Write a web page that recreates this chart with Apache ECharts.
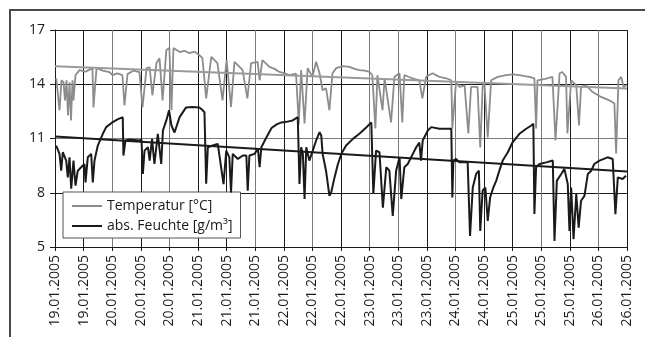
<!DOCTYPE html>
<html>
<head>
<meta charset="utf-8">
<script src="https://cdn.jsdelivr.net/npm/echarts@6/dist/echarts.min.js"></script>
<style>
  html, body { margin: 0; padding: 0; background: #fff; }
  #chart { width: 645px; height: 337px; }
</style>
</head>
<body>
<div id="chart"></div>
<script>
// x = Stunden ab linkem Rand (19.01.2005 ca. 10 Uhr), eine Teilung = 8,4 h
var tickStep = 8.4
var tickLabels = [
  '19.01.2005', '19.01.2005', '20.01.2005', '20.01.2005', '20.01.2005',
  '21.01.2005', '21.01.2005', '21.01.2005', '22.01.2005', '22.01.2005',
  '22.01.2005', '23.01.2005', '23.01.2005', '23.01.2005', '24.01.2005',
  '24.01.2005', '25.01.2005', '25.01.2005', '25.01.2005', '26.01.2005',
  '26.01.2005'
]

var temperatur = [
  [0.35, 14.33], [0.73, 13.67], [1.32, 12.56], [1.91, 14.22], [2.5, 14.11],
  [2.94, 13.11], [3.38, 14.22], [3.82, 12.28], [4.26, 14.11], [4.7, 12.0],
  [5.14, 14.22], [5.43, 13.11], [6.02, 14.5], [7.2, 14.78], [9.0, 14.7],
  [11.0, 14.89], [11.3, 12.72], [12.2, 14.89], [14.0, 14.75], [16.0, 14.67],
  [16.9, 14.5], [18.3, 14.6], [19.8, 14.5], [20.4, 12.83], [21.3, 14.56],
  [23.0, 14.75], [24.8, 14.67], [25.7, 12.72], [26.9, 14.89], [27.8, 14.94],
  [28.6, 13.39], [29.8, 15.17], [30.7, 15.44], [31.6, 13.11], [32.7, 15.89],
  [33.6, 16.0], [34.2, 12.56], [34.8, 16.0], [36.6, 15.78], [38.0, 15.85],
  [39.5, 15.72], [41.0, 15.8], [42.4, 15.61], [43.3, 15.44], [44.4, 13.22],
  [45.9, 15.52], [47.7, 15.17], [49.2, 13.11], [50.4, 15.33], [51.7, 12.74],
  [52.7, 15.24], [54.0, 15.0], [55.1, 14.78], [56.5, 13.22], [57.6, 15.17],
  [59.5, 15.24], [60.1, 14.22], [60.9, 15.33], [63.0, 14.96], [64.5, 14.85],
  [65.9, 14.68], [67.5, 14.6], [68.9, 14.5], [70.8, 14.59], [71.6, 11.78],
  [72.3, 14.78], [73.3, 11.83], [74.2, 14.89], [75.6, 14.41], [76.7, 15.24],
  [77.7, 14.61], [78.6, 13.67], [79.6, 13.78], [80.6, 12.56], [81.5, 14.61],
  [82.6, 14.89], [84.5, 15.0], [86.5, 14.96], [88.0, 14.85], [89.4, 14.78],
  [91.0, 14.75], [92.4, 14.68], [93.2, 14.5], [94.1, 11.56], [94.7, 14.5],
  [96.2, 12.56], [96.8, 14.33], [98.7, 11.89], [99.7, 14.41], [101.2, 14.61],
  [102.0, 11.89], [102.6, 14.5], [104.0, 14.4], [105.0, 14.33], [107.0, 14.22],
  [107.9, 13.22], [109.0, 14.41], [110.9, 14.61], [112.9, 14.41], [114.9, 14.33],
  [116.4, 14.22], [116.7, 11.56], [117.8, 14.13], [118.8, 13.85], [120.3, 13.94],
  [121.4, 11.28], [122.2, 13.85], [124.1, 13.85], [124.9, 10.5], [125.6, 13.85],
  [126.1, 14.13], [127.1, 11.06], [128.1, 14.22], [130.0, 14.41], [132.5, 14.5],
  [134.5, 14.55], [136.4, 14.5], [138.0, 14.45], [139.4, 14.41], [140.8, 14.33],
  [141.3, 11.56], [141.7, 14.22], [144.0, 14.3], [146.1, 14.41], [147.0, 10.89],
  [148.2, 14.61], [149.0, 14.68], [150.1, 14.41], [150.5, 11.28], [151.6, 14.22],
  [153.1, 13.94], [153.9, 11.72], [154.5, 13.85], [156.0, 13.94], [157.9, 13.57],
  [160.4, 13.3], [162.8, 13.11], [164.3, 12.94], [164.8, 10.17], [165.5, 14.22],
  [166.3, 14.41], [167.0, 13.85], [167.8, 13.94]
]

var feuchte = [
  [0.35, 10.61], [1.32, 10.15], [1.82, 9.22], [2.29, 10.24], [3.29, 9.78],
  [3.76, 8.85], [4.26, 9.96], [4.76, 8.22], [5.43, 9.78], [6.02, 8.39],
  [6.7, 9.22], [7.69, 9.41], [8.66, 9.59], [8.96, 8.57], [9.63, 9.96],
  [10.63, 10.15], [11.1, 8.57], [11.6, 9.78], [12.57, 10.61], [14.04, 11.26],
  [15.04, 11.63], [16.98, 11.91], [18.36, 12.06], [19.9, 12.18], [20.1, 10.06],
  [20.7, 10.89], [21.9, 10.94], [24.8, 10.89], [25.4, 10.94], [25.8, 9.04],
  [26.3, 10.33], [27.3, 10.52], [27.8, 9.78], [28.5, 10.98], [29.2, 9.59],
  [30.2, 11.26], [31.2, 9.59], [31.7, 11.44], [32.7, 12.0], [33.5, 12.56],
  [34.2, 11.72], [35.1, 11.33], [36.6, 12.18], [38.5, 12.72], [40.4, 12.74],
  [42.4, 12.72], [43.4, 12.56], [43.9, 12.44], [44.4, 8.5], [44.9, 10.52],
  [46.3, 10.61], [47.8, 10.7], [49.5, 8.48], [50.3, 10.33], [51.2, 9.96],
  [51.7, 8.02], [52.2, 10.15], [53.7, 9.87], [55.2, 10.06], [56.2, 10.06],
  [56.6, 8.11], [57.1, 10.06], [58.6, 10.15], [59.6, 10.43], [60.1, 9.41],
  [60.6, 10.52], [62.0, 11.03], [63.6, 11.58], [65.1, 11.78], [66.5, 11.89],
  [68.0, 11.92], [69.8, 12.0], [71.3, 12.18], [71.8, 8.48], [72.3, 10.52],
  [72.8, 10.15], [73.3, 7.65], [73.8, 10.52], [74.7, 9.78], [75.7, 10.33],
  [76.7, 10.89], [77.7, 11.35], [78.2, 11.17], [78.6, 10.15], [79.6, 9.22],
  [80.6, 7.83], [81.1, 8.0], [82.1, 8.85], [83.1, 9.59], [84.1, 10.15],
  [85.5, 10.61], [87.5, 10.98], [89.4, 11.26], [91.4, 11.61], [92.9, 11.89],
  [93.3, 12.0], [93.5, 7.93], [94.3, 10.33], [95.3, 10.24], [96.3, 7.18],
  [97.3, 9.41], [98.2, 9.22], [99.2, 6.72], [100.2, 9.22], [101.2, 9.96],
  [101.7, 7.65], [102.6, 9.41], [103.6, 9.59], [105.1, 10.15], [106.1, 10.52],
  [107.0, 10.78], [107.5, 9.78], [108.0, 10.89], [109.5, 11.44], [110.5, 11.63],
  [112.9, 11.54], [116.4, 11.54], [116.7, 7.74], [117.0, 9.78], [117.8, 9.87],
  [118.8, 9.68], [121.2, 9.68], [121.9, 5.61], [122.7, 8.29], [123.7, 9.04],
  [124.5, 9.22], [124.9, 5.89], [125.6, 8.11], [126.4, 8.29], [127.1, 6.44],
  [127.8, 7.74], [128.6, 8.21], [129.6, 8.67], [130.5, 9.22], [131.5, 9.78],
  [133.0, 10.24], [134.4, 10.79], [136.4, 11.26], [138.4, 11.54], [139.9, 11.72],
  [140.5, 11.82], [140.8, 6.82], [141.3, 9.41], [142.3, 9.59], [144.3, 9.68],
  [146.2, 9.78], [146.7, 5.33], [147.4, 8.67], [148.7, 9.04], [149.6, 9.32],
  [150.6, 8.48], [151.1, 5.89], [151.6, 8.29], [152.3, 5.43], [153.1, 7.93],
  [153.8, 6.07], [154.5, 7.56], [155.5, 7.83], [156.5, 9.04], [157.5, 9.22],
  [158.4, 9.59], [159.9, 9.78], [162.3, 9.96], [163.8, 9.87], [164.6, 6.82],
  [165.3, 8.85], [166.7, 8.76], [167.7, 8.94]
]

// lineare Trends
var trendTemperatur = [[0, 15.0], [168, 13.76]]
var trendFeuchte = [[0, 11.11], [168, 9.17]]

var D = '#1a1a1a'
var G = '#7a7a7a'
var font = '"Open Sans", "Noto Sans", sans-serif'
var lineIcon = 'path://M0,0 L30,0 L30,2 L0,2 Z'

var chart = echarts.init(document.getElementById('chart'), null, { renderer: 'canvas' })

chart.setOption({
  animation: false,
  backgroundColor: '#fff',
  textStyle: { fontFamily: font },
  grid: { left: 55, top: 30, width: 572, height: 217 },
  graphic: [{
    type: 'rect',
    shape: { x: 10, y: 10, width: 700, height: 400 },
    style: { fill: 'none', stroke: '#4a4a4a', lineWidth: 2 },
    silent: true
  }],
  legend: {
    orient: 'vertical',
    left: 63,
    top: 192,
    padding: [7, 8, 5, 9],
    itemWidth: 30,
    itemHeight: 14,
    itemGap: 6,
    backgroundColor: '#fff',
    borderColor: '#555',
    borderWidth: 1,
    borderRadius: 0,
    textStyle: { fontFamily: font, fontSize: 14, color: D },
    data: [
      { name: 'Temperatur [°C]', icon: lineIcon },
      { name: 'abs. Feuchte [g/m³]', icon: lineIcon }
    ]
  },
  xAxis: {
    type: 'value',
    min: 0,
    max: 168,
    interval: tickStep,
    axisLine: { show: true, lineStyle: { color: D, width: 1 } },
    axisTick: { show: true, length: 4, lineStyle: { color: D } },
    splitLine: {
      show: true,
      lineStyle: { color: [D, D, G, D, G, D, D, G, D, G, D, G, G, D, G, D, D, G, D, G, D], width: 1 }
    },
    axisLabel: {
      rotate: 90,
      margin: 8,
      fontSize: 14,
      color: D,
      fontFamily: font,
      showMinLabel: true,
      showMaxLabel: true,
      formatter: function (v) {
        return tickLabels[Math.round(v / tickStep)] || ''
      }
    }
  },
  yAxis: {
    type: 'value',
    min: 5,
    max: 17,
    interval: 3,
    axisLine: { show: true, lineStyle: { color: D, width: 1 } },
    axisTick: { show: true, length: 5, lineStyle: { color: D } },
    splitLine: { show: true, lineStyle: { color: [D, D, G, D, D], width: 1 } },
    axisLabel: { margin: 10, fontSize: 14, color: D, fontFamily: font }
  },
  series: [
    {
      name: 'Temperatur [°C]',
      type: 'line',
      data: temperatur,
      symbol: 'none',
      color: '#8c8c8c',
      lineStyle: { color: '#8c8c8c', width: 1.8 },
      z: 3
    },
    {
      name: 'abs. Feuchte [g/m³]',
      type: 'line',
      data: feuchte,
      symbol: 'none',
      color: D,
      lineStyle: { color: D, width: 2 },
      z: 4
    },
    {
      name: 'trendT',
      type: 'line',
      data: trendTemperatur,
      symbol: 'none',
      silent: true,
      lineStyle: { color: '#9a9a9a', width: 2 },
      z: 5
    },
    {
      name: 'trendF',
      type: 'line',
      data: trendFeuchte,
      symbol: 'none',
      silent: true,
      lineStyle: { color: D, width: 2 },
      z: 5
    }
  ]
})
</script>
</body>
</html>
